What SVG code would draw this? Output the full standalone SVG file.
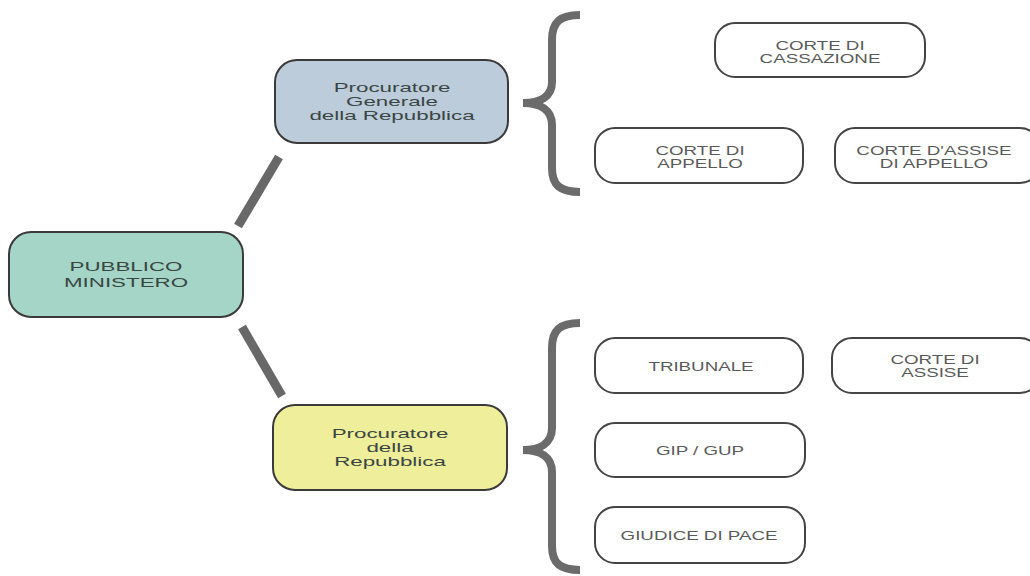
<svg xmlns="http://www.w3.org/2000/svg" width="1030" height="576" viewBox="0 0 1030 576">
<style>
.main{stroke:#3a3a3a;stroke-width:2}
.leaf{fill:#ffffff;stroke:#444444;stroke-width:2}
.mt{font-family:"Liberation Sans",Arial,sans-serif;font-size:13px;fill:#3a4644;text-anchor:middle}
.lt{font-family:"Liberation Sans",Arial,sans-serif;font-size:12.5px;fill:#5a5a5a;text-anchor:middle}
.conn{stroke:#686868;stroke-width:9;fill:none;stroke-linecap:butt}
.brace{stroke:#6b6b6b;stroke-width:8;fill:none;stroke-linecap:butt}
</style>
<rect width="1030" height="576" fill="#ffffff"/>
<g id="connectors">
<line class="conn" x1="279" y1="157" x2="238" y2="226"/>
<line class="conn" x1="242" y1="327" x2="282" y2="396"/>
<path class="brace" d="M580,15 C560,15 552,22 552,40 L552,82 C552,97 540,103 523,103 C540,103 552,110 552,125 L552,168 C552,185 560,192 580,192"/>
<path class="brace" d="M580,323 C560,323 552,330 552,348 L552,428 C552,443 540,450 523,450 C540,450 552,457 552,472 L552,546 C552,563 560,570 580,570"/>
</g>
<g id="pm">
<rect class="main" x="9" y="232" width="234" height="85" rx="22" fill="#a5d5c6"/>
<text class="mt" transform="matrix(1.72 0 0 1 126 0)" x="0" y="271">PUBBLICO</text>
<text class="mt" transform="matrix(1.72 0 0 1 126 0)" x="0" y="287">MINISTERO</text>
</g>
<g id="pg">
<rect class="main" x="275" y="60" width="233" height="83" rx="22" fill="#bdccda"/>
<text class="mt" transform="matrix(1.72 0 0 1 392 0)" x="0" y="92">Procuratore</text>
<text class="mt" transform="matrix(1.72 0 0 1 392 0)" x="0" y="106">Generale</text>
<text class="mt" transform="matrix(1.72 0 0 1 392 0)" x="0" y="120">della Repubblica</text>
</g>
<g id="pr">
<rect class="main" x="273" y="405" width="234" height="85" rx="22" fill="#efee9b"/>
<text class="mt" transform="matrix(1.72 0 0 1 390 0)" x="0" y="438">Procuratore</text>
<text class="mt" transform="matrix(1.72 0 0 1 390 0)" x="0" y="452">della</text>
<text class="mt" transform="matrix(1.72 0 0 1 390 0)" x="0" y="466">Repubblica</text>
</g>
<g id="cassazione">
<rect class="leaf" x="715" y="23" width="210" height="54" rx="20"/>
<text class="lt" transform="matrix(1.5 0 0 1 820 0)" x="0" y="50">CORTE DI</text>
<text class="lt" transform="matrix(1.5 0 0 1 820 0)" x="0" y="63">CASSAZIONE</text>
</g>
<g id="appello">
<rect class="leaf" x="595" y="128" width="208" height="55" rx="20"/>
<text class="lt" transform="matrix(1.5 0 0 1 700 0)" x="0" y="155">CORTE DI</text>
<text class="lt" transform="matrix(1.5 0 0 1 700 0)" x="0" y="168">APPELLO</text>
</g>
<g id="assise-appello">
<rect class="leaf" x="835" y="128" width="205" height="55" rx="20"/>
<text class="lt" transform="matrix(1.5 0 0 1 934 0)" x="0" y="155">CORTE D'ASSISE</text>
<text class="lt" transform="matrix(1.5 0 0 1 934 0)" x="0" y="168">DI APPELLO</text>
</g>
<g id="tribunale">
<rect class="leaf" x="595" y="338" width="208" height="55" rx="20"/>
<text class="lt" transform="matrix(1.5 0 0 1 701 0)" x="0" y="371">TRIBUNALE</text>
</g>
<g id="assise">
<rect class="leaf" x="832" y="338" width="208" height="55" rx="20"/>
<text class="lt" transform="matrix(1.5 0 0 1 935 0)" x="0" y="364">CORTE DI</text>
<text class="lt" transform="matrix(1.5 0 0 1 935 0)" x="0" y="377">ASSISE</text>
</g>
<g id="gip">
<rect class="leaf" x="595" y="423" width="210" height="54" rx="20"/>
<text class="lt" transform="matrix(1.5 0 0 1 700 0)" x="0" y="455">GIP / GUP</text>
</g>
<g id="giudice">
<rect class="leaf" x="595" y="507" width="210" height="56" rx="20"/>
<text class="lt" transform="matrix(1.5 0 0 1 699 0)" x="0" y="540">GIUDICE DI PACE</text>
</g>
</svg>
